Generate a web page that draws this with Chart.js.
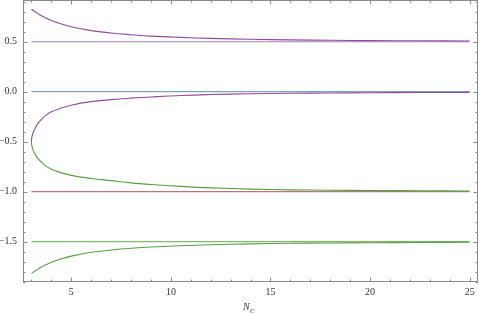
<!DOCTYPE html>
<html>
<head>
<meta charset="utf-8">
<script src="https://cdn.jsdelivr.net/npm/chart.js@4/dist/chart.umd.min.js"></script>
<style>
  html, body { margin: 0; padding: 0; background: #fff; }
  #wrap { width: 479px; height: 314px; }
</style>
</head>
<body>
<div id="wrap"><canvas id="plot"></canvas></div>
<script>
// N_C values for the outer branches and the inner (branching) pair
var nOuter = [3, 3.25, 3.5, 3.75, 4, 4.4, 5, 6, 7, 8, 9, 10.5, 12, 14, 16, 18, 20, 22.5, 25];
var topBranch = [0.824, 0.79, 0.759, 0.735, 0.712, 0.684, 0.65, 0.611, 0.587, 0.57, 0.556, 0.543, 0.533, 0.524, 0.518, 0.514, 0.511, 0.509, 0.507];
var bottomBranch = [-1.818, -1.784, -1.753, -1.729, -1.706, -1.678, -1.645, -1.607, -1.584, -1.567, -1.554, -1.541, -1.532, -1.523, -1.517, -1.514, -1.511, -1.509, -1.507];

var nInner = [3, 3.01, 3.03, 3.06, 3.1, 3.2, 3.35, 3.5, 3.7, 4, 4.4, 5, 6, 7, 8, 9, 10.5, 12, 14, 16, 18, 20, 22.5, 25];
var upperInner = [-0.5, -0.468, -0.445, -0.423, -0.401, -0.36, -0.31, -0.278, -0.24, -0.202, -0.17, -0.135, -0.10, -0.08, -0.065, -0.053, -0.038, -0.029, -0.021, -0.016, -0.013, -0.011, -0.009, -0.007];
var lowerInner = [-0.5, -0.53, -0.552, -0.573, -0.594, -0.632, -0.675, -0.705, -0.74, -0.775, -0.805, -0.837, -0.868, -0.89, -0.912, -0.928, -0.947, -0.962, -0.975, -0.982, -0.986, -0.989, -0.991, -0.993];

// asymptotes and their colours
var asymptotes = [0.5, 0, -1, -1.5];
var asymColors = ['#a27fb0', '#7fa3ba', '#b8787a', '#80bb6e'];
var lineRange = [3, 25];

var xMajor = [5, 10, 15, 20, 25];
var yMajor = [0.5, 0, -0.5, -1, -1.5];

var purple = '#8e4d9c';
var green = '#55a043';

function pts(xs, ys) {
  return xs.map(function (x, i) { return { x: x, y: ys[i] }; });
}

// inner pair as one path: lower (green) branch from the right back to the
// branch point, then the upper (purple) branch out again
var innerPath = pts(nInner, lowerInner).reverse().concat(pts(nInner, upperInner).slice(1));
var turn = nInner.length - 1;

var datasets = [
  { data: pts(nOuter, topBranch), borderColor: purple },
  {
    data: innerPath,
    borderColor: green,
    segment: { borderColor: function (c) { return c.p0DataIndex < turn ? green : purple; } }
  },
  { data: pts(nOuter, bottomBranch), borderColor: green }
];
asymptotes.forEach(function (v, i) {
  datasets.push({
    data: lineRange.map(function (x) { return { x: x, y: v }; }),
    borderColor: asymColors[i]
  });
});
datasets.forEach(function (d) {
  d.showLine = true;
  d.pointRadius = 0;
  d.borderWidth = 1.1;
  d.tension = 0.4;
});

function fmt(v) {
  var s = Math.abs(v).toFixed(1);
  return v < 0 ? '\u2212' + s : s;
}

// frame on top/right, inward ticks, and the N_C label
var frameTicks = {
  id: 'frameTicks',
  afterDraw: function (chart) {
    var ctx = chart.ctx, a = chart.chartArea;
    var xs = chart.scales.x, ys = chart.scales.y;
    ctx.save();
    ctx.strokeStyle = '#8a8a8a';
    ctx.lineWidth = 1;
    ctx.beginPath();
    ctx.moveTo(a.left, a.top + 0.5); ctx.lineTo(a.right, a.top + 0.5);
    ctx.moveTo(a.right - 0.5, a.top); ctx.lineTo(a.right - 0.5, a.bottom);
    ctx.moveTo(a.left + 0.5, a.top); ctx.lineTo(a.left + 0.5, a.bottom);
    ctx.moveTo(a.left, a.bottom - 0.5); ctx.lineTo(a.right, a.bottom - 0.5);
    for (var n = 3; n <= 25; n++) {
      var len = n % 5 === 0 ? 4.5 : 2.5;
      var px = Math.round(xs.getPixelForValue(n)) + 0.5;
      ctx.moveTo(px, a.bottom); ctx.lineTo(px, a.bottom - len);
      ctx.moveTo(px, a.top); ctx.lineTo(px, a.top + len);
    }
    for (var k = -19; k <= 9; k++) {
      var v = k / 10;
      var l2 = k % 5 === 0 ? 4.5 : 2.5;
      var py = Math.round(ys.getPixelForValue(v)) + 0.5;
      ctx.moveTo(a.left, py); ctx.lineTo(a.left + l2, py);
      ctx.moveTo(a.right, py); ctx.lineTo(a.right - l2, py);
    }
    ctx.stroke();

    ctx.fillStyle = '#333';
    ctx.textBaseline = 'alphabetic';
    ctx.font = 'italic 10px "Liberation Serif"';
    ctx.fillText('N', 243, 310);
    ctx.font = 'italic 7px "Liberation Serif"';
    ctx.fillText('C', 250, 313);
    ctx.restore();
  }
};

new Chart(document.getElementById('plot'), {
  type: 'scatter',
  data: { datasets: datasets },
  options: {
    responsive: true,
    maintainAspectRatio: false,
    animation: false,
    layout: { padding: { top: 0, right: 1, left: 0, bottom: 0 } },
    plugins: { legend: { display: false }, tooltip: { enabled: false } },
    scales: {
      x: {
        type: 'linear',
        min: 2.575,
        max: 25.42,
        grid: { display: false, drawTicks: false },
        border: { display: false },
        afterBuildTicks: function (s) { s.ticks = xMajor.map(function (v) { return { value: v }; }); },
        afterFit: function (s) { s.height = 32; s.paddingLeft = 0; s.paddingRight = 0; },
        ticks: {
          padding: 4,
          color: '#333',
          font: { family: '"Liberation Serif"', size: 10 },
          maxRotation: 0,
          callback: function (v) { return String(v); }
        }
      },
      y: {
        type: 'linear',
        min: -1.904,
        max: 0.917,
        grid: { display: false, drawTicks: false },
        border: { display: false },
        afterBuildTicks: function (s) { s.ticks = yMajor.map(function (v) { return { value: v }; }); },
        afterFit: function (s) { s.width = 23; s.paddingTop = 0; s.paddingBottom = 0; },
        ticks: {
          padding: 6,
          color: '#333',
          font: { family: '"Liberation Serif"', size: 10 },
          callback: function (v) { return fmt(v); }
        }
      }
    }
  },
  plugins: [frameTicks]
});
</script>
</body>
</html>
